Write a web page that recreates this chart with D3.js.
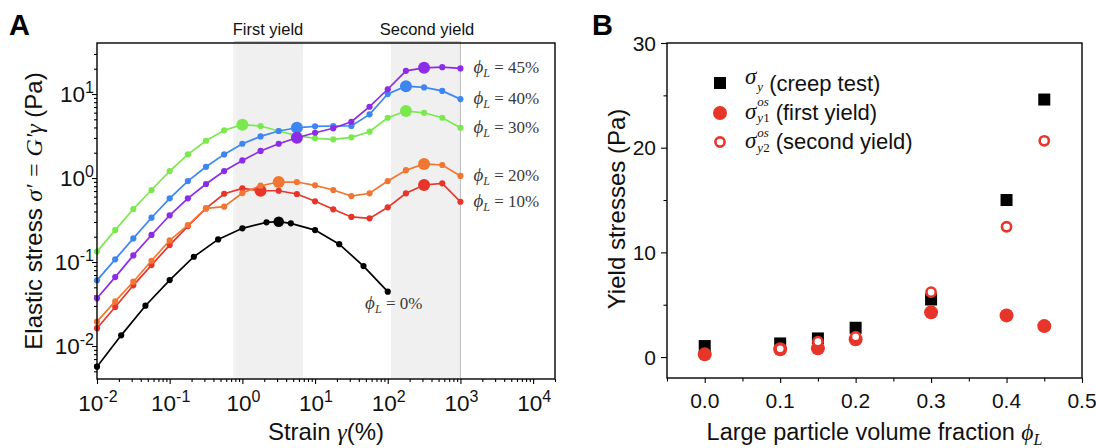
<!DOCTYPE html>
<html>
<head>
<meta charset="utf-8">
<script src="https://cdn.jsdelivr.net/npm/d3@7"></script>
<style>
  body { margin: 0; background: #fff; }
  svg { display: block; }
  .sans { font-family: "Liberation Sans", Arial, Helvetica, sans-serif; }
  .math { font-family: "Liberation Serif", "Times New Roman", "DejaVu Serif", serif; font-style: italic; }
  .rm { font-family: "Liberation Serif", "Times New Roman", "DejaVu Serif", serif; font-style: normal; }
</style>
</head>
<body>
<svg id="fig" width="1096" height="448"></svg>
<script>
// ---------- Panel A: amplitude sweeps, elastic stress vs strain ----------
// strain (%) of the sweeps with large particles, five points per decade
const strainGrid = [0.01, 0.0178, 0.0316, 0.0562, 0.1, 0.178, 0.316, 0.562, 1, 1.78, 3.16,
                    5.62, 10, 17.8, 31.6, 56.2, 100, 178, 316, 562, 1000];
// strain (%) of the pure small-particle gel
const strainPure = [0.01, 0.0215, 0.0464, 0.1, 0.215, 0.464, 1, 2.15, 3.16, 4.64, 10, 21.5, 46.4, 100];

// elastic stress (Pa)
const stress0  = [0.00568, 0.0134, 0.0302, 0.061, 0.1156, 0.186, 0.252, 0.297, 0.302, 0.289, 0.24, 0.163, 0.0895, 0.0444];
const stress10 = [0.0163, 0.0291, 0.0528, 0.092, 0.159, 0.268, 0.435, 0.65, 0.753, 0.706, 0.706,
                  0.645, 0.528, 0.424, 0.344, 0.331, 0.448, 0.658, 0.826, 0.865, 0.522];
const stress20 = [0.0195, 0.034, 0.0583, 0.1035, 0.181, 0.275, 0.435, 0.456, 0.662, 0.81, 0.896,
                  0.896, 0.818, 0.72, 0.61, 0.658, 0.92, 1.24, 1.47, 1.43, 1.06];
const stress30 = [0.133, 0.24, 0.428, 0.72, 1.21, 1.91, 2.78, 3.70, 4.31, 4.16, 3.63,
                  3.2, 2.97, 2.89, 3.05, 3.56, 5.22, 6.28, 5.98, 5.22, 3.97];
const stress40 = [0.0605, 0.1077, 0.191, 0.337, 0.573, 0.92, 1.36, 1.91, 2.56, 3.13, 3.63,
                  3.97, 4.12, 4.16, 4.16, 5.73, 10.0, 12.4, 12.0, 10.9, 8.7];
const stress45 = [0.037, 0.0662, 0.120, 0.21, 0.36, 0.573, 0.849, 1.21, 1.62, 2.10, 2.56,
                  3.02, 3.46, 3.91, 4.68, 7.06, 11.4, 18.9, 20.5, 20.9, 20.2];

const seriesNames  = ["0%", "10%", "20%", "30%", "40%", "45%"];
const seriesColors = ["#000000", "#e8352a", "#f07632", "#7ae94e", "#3d86f2", "#8c2ce6"];
// strain (%) at the first and second yield of each sweep (null: no second yield)
const firstYieldStrain  = [3.16, 1.78, 3.16, 1, 5.62, 5.62];
const secondYieldStrain = [null, 316, 316, 178, 178, 316];

// shaded yielding windows (strain %)
const yieldBands = [[0.8, 6.8], [111, 1000]];
const yieldBandNames = ["First yield", "Second yield"];
const yieldBandLabelX = [268, 427];

const aXTickExp = [-2, -1, 0, 1, 2, 3, 4];
const aYTickExp = [-2, -1, 0, 1];

// ---------- Panel B: yield stresses vs large particle fraction ----------
const phiCreep = [0, 0.1, 0.15, 0.2, 0.3, 0.4, 0.45];
const sigmaCreep = [1.05, 1.3, 1.78, 2.8, 5.5, 15.0, 24.6];
const phiFirst = [0, 0.1, 0.15, 0.2, 0.3, 0.4, 0.45];
const sigmaFirst = [0.26, 0.75, 0.83, 1.69, 4.27, 3.98, 2.96];
const phiSecond = [0.1, 0.15, 0.2, 0.3, 0.4, 0.45];
const sigmaSecond = [0.8, 1.47, 1.94, 6.2, 12.45, 20.66];

const bXTicks = [0, 0.1, 0.2, 0.3, 0.4, 0.5];
const bXTickLabels = ["0.0", "0.1", "0.2", "0.3", "0.4", "0.5"];
const bYTicks = [0, 10, 20, 30];

// ======================================================================
const svg = d3.select("#fig");
const SANS = "sans", MATH = "math", RM = "rm";

const A = { left: 97, top: 43, right: 555, bottom: 379 };
const B = { left: 667, top: 43, right: 1082, bottom: 378 };

const xA = d3.scaleLog().domain([0.01, 2e4]).range([A.left, A.right]);
const yA = d3.scaleLog().domain([0.00405, 40.5]).range([A.bottom, A.top]);
const xB = d3.scaleLinear().domain([-0.05, 0.5]).range([B.left, B.right]);
const yB = d3.scaleLinear().domain([-2, 30]).range([B.bottom, B.top]);

// ---------- Panel A ----------
const gA = svg.append("g");

// yield windows
yieldBands.forEach(([a, b]) => {
  gA.append("rect")
    .attr("x", xA(a)).attr("y", A.top - 1.5)
    .attr("width", xA(b) - xA(a)).attr("height", A.bottom - A.top + 1.5)
    .attr("fill", "#f0f0f0");
});
gA.append("line")
  .attr("x1", xA(0.77)).attr("x2", xA(0.77)).attr("y1", A.top - 1.5).attr("y2", A.bottom)
  .attr("stroke", "#e8e8e8").attr("stroke-width", 1);
gA.append("line")
  .attr("x1", xA(1000)).attr("x2", xA(1000)).attr("y1", A.top - 1.5).attr("y2", A.bottom)
  .attr("stroke", "#bdbdbd").attr("stroke-width", 1);
gA.append("line")
  .attr("x1", xA(0.77)).attr("x2", xA(1000)).attr("y1", A.top - 1.5).attr("y2", A.top - 1.5)
  .attr("stroke", "#c9c9c9").attr("stroke-width", 1);

yieldBandNames.forEach((name, i) => {
  gA.append("text").attr("class", SANS)
    .attr("x", yieldBandLabelX[i]).attr("y", 35).attr("text-anchor", "middle")
    .style("font-size", "16.5px").attr("fill", "#111")
    .text(name);
});

// axes (ticks outward)
const xMajA = aXTickExp.map(e => Math.pow(10, e));
const yMajA = aYTickExp.map(e => Math.pow(10, e));
const isMajor = v => Math.abs(Math.log10(v) - Math.round(Math.log10(v))) < 1e-6;
const xMinA = xA.ticks().filter(v => !isMajor(v));
const yMinA = yA.ticks().filter(v => !isMajor(v) && v < 39);

function styleAxis(g) {
  g.select(".domain").remove();
  g.selectAll(".tick line").attr("stroke", "#000").attr("stroke-width", 1.1);
  g.selectAll(".tick text").remove();
}
gA.append("g").attr("transform", `translate(0,${A.bottom})`)
  .call(d3.axisBottom(xA).tickValues(xMajA).tickSize(5).tickFormat("")).call(styleAxis);
gA.append("g").attr("transform", `translate(0,${A.bottom})`)
  .call(d3.axisBottom(xA).tickValues(xMinA).tickSize(3).tickFormat("")).call(styleAxis);
gA.append("g").attr("transform", `translate(${A.left},0)`)
  .call(d3.axisLeft(yA).tickValues(yMajA).tickSize(5).tickFormat("")).call(styleAxis);
gA.append("g").attr("transform", `translate(${A.left},0)`)
  .call(d3.axisLeft(yA).tickValues(yMinA).tickSize(3).tickFormat("")).call(styleAxis);

// tick labels 10^n
aXTickExp.forEach(e => {
  const t = gA.append("text").attr("class", SANS)
    .attr("x", xA(Math.pow(10, e)) + 1).attr("y", 411)
    .attr("text-anchor", "middle").style("font-size", "22.5px").attr("fill", "#111");
  t.append("tspan").text("10");
  t.append("tspan").attr("dy", -9).style("font-size", "16px").text(String(e));
});
aYTickExp.forEach(e => {
  const t = gA.append("text").attr("class", SANS)
    .attr("x", 94).attr("y", yA(Math.pow(10, e)) + 8)
    .attr("text-anchor", "end").style("font-size", "22.5px").attr("fill", "#111");
  t.append("tspan").text("10");
  t.append("tspan").attr("dy", -9).style("font-size", "16px").text(String(e));
});

// series
const allStress = [stress0, stress10, stress20, stress30, stress40, stress45];
const allStrain = [strainPure, strainGrid, strainGrid, strainGrid, strainGrid, strainGrid];
const line = d3.line().x(d => xA(d[0])).y(d => yA(d[1]));

allStress.forEach((stress, i) => {
  const pts = allStrain[i].map((s, k) => [s, stress[k]]);
  const col = seriesColors[i];
  gA.append("path").datum(pts).attr("d", line)
    .attr("fill", "none").attr("stroke", col).attr("stroke-width", 1.7);
  gA.selectAll(null).data(pts).enter().append("circle")
    .attr("cx", d => xA(d[0])).attr("cy", d => yA(d[1])).attr("r", 3.1).attr("fill", col);
  [firstYieldStrain[i], secondYieldStrain[i]].forEach(ys => {
    if (ys == null) return;
    const p = pts.find(d => Math.abs(d[0] - ys) < 1e-9);
    gA.append("circle").attr("cx", xA(p[0])).attr("cy", yA(p[1]))
      .attr("r", i === 0 ? 5.3 : 6).attr("fill", col);
  });
});

// series labels
function phiLabel(g, x, y, pct, anchor) {
  const t = g.append("text").attr("x", x).attr("y", y).attr("text-anchor", anchor || "start")
    .style("font-size", "17px").attr("fill", "#3a3a3a");
  t.append("tspan").attr("class", MATH).style("font-size", "19px").text("ϕ");
  t.append("tspan").attr("class", MATH).attr("dy", 4).style("font-size", "12px").text("L");
  t.append("tspan").attr("class", RM).attr("dy", -4).text(" = " + pct);
}
[1, 2, 3, 4, 5].forEach(i => {
  const last = allStress[i][allStress[i].length - 1];
  phiLabel(gA, xA(1000) + 13, yA(last) + 5, seriesNames[i]);
});
phiLabel(gA, xA(100) + 6, yA(stress0[stress0.length - 1]) + 17, seriesNames[0], "middle");

// frame
gA.append("rect").attr("x", A.left).attr("y", A.top)
  .attr("width", A.right - A.left).attr("height", A.bottom - A.top)
  .attr("fill", "none").attr("stroke", "#000").attr("stroke-width", 1.4);

// axis titles
{
  const t = gA.append("text").attr("transform", "translate(42,211) rotate(-90)")
    .attr("text-anchor", "middle").style("font-size", "24px").attr("fill", "#111");
  t.append("tspan").attr("class", SANS).text("Elastic stress ");
  t.append("tspan").attr("class", MATH).text("σ′ = G′γ");
  t.append("tspan").attr("class", SANS).text(" (Pa)");
}
{
  const t = gA.append("text").attr("x", (A.left + A.right) / 2).attr("y", 440)
    .attr("text-anchor", "middle").style("font-size", "24px").attr("fill", "#111");
  t.append("tspan").attr("class", SANS).text("Strain ");
  t.append("tspan").attr("class", MATH).text("γ");
  t.append("tspan").attr("class", SANS).text("(%)");
}
svg.append("text").attr("class", SANS).attr("x", 9).attr("y", 35)
  .style("font-size", "29px").style("font-weight", "bold").text("A");

// ---------- Panel B ----------
const gB = svg.append("g");
const bXMinor = d3.range(-0.05, 0.5001, 0.05).filter(v => !bXTicks.some(t => Math.abs(t - v) < 1e-6));
const bYMinor = [5, 15, 25];

gB.append("g").attr("transform", `translate(0,${B.bottom})`)
  .call(d3.axisBottom(xB).tickValues(bXTicks).tickSize(5).tickFormat("")).call(styleAxis);
gB.append("g").attr("transform", `translate(0,${B.bottom})`)
  .call(d3.axisBottom(xB).tickValues(bXMinor).tickSize(3.5).tickFormat("")).call(styleAxis);
gB.append("g").attr("transform", `translate(${B.left},0)`)
  .call(d3.axisLeft(yB).tickValues(bYTicks).tickSize(6).tickFormat("")).call(styleAxis);
gB.append("g").attr("transform", `translate(${B.left},0)`)
  .call(d3.axisLeft(yB).tickValues(bYMinor).tickSize(3.5).tickFormat("")).call(styleAxis);

bXTicks.forEach((v, i) => {
  gB.append("text").attr("class", SANS).attr("x", xB(v)).attr("y", 408)
    .attr("text-anchor", "middle").style("font-size", "21px").attr("fill", "#111")
    .text(bXTickLabels[i]);
});
bYTicks.forEach(v => {
  gB.append("text").attr("class", SANS).attr("x", 656).attr("y", yB(v) + 7.5)
    .attr("text-anchor", "end").style("font-size", "21px").attr("fill", "#111")
    .text(String(v));
});

const RED = "#e8352a";
const sq = 12;
gB.selectAll(null).data(phiCreep.map((p, i) => [p, sigmaCreep[i]])).enter().append("rect")
  .attr("x", d => xB(d[0]) - sq / 2).attr("y", d => yB(d[1]) - sq / 2)
  .attr("width", sq).attr("height", sq).attr("fill", "#000");
gB.selectAll(null).data(phiFirst.map((p, i) => [p, sigmaFirst[i]])).enter().append("circle")
  .attr("cx", d => xB(d[0])).attr("cy", d => yB(d[1])).attr("r", 7).attr("fill", RED);
gB.selectAll(null).data(phiSecond.map((p, i) => [p, sigmaSecond[i]])).enter().append("circle")
  .attr("cx", d => xB(d[0])).attr("cy", d => yB(d[1])).attr("r", 4.6)
  .attr("fill", "#fff").attr("stroke", RED).attr("stroke-width", 2.6);

gB.append("rect").attr("x", B.left).attr("y", B.top)
  .attr("width", B.right - B.left).attr("height", B.bottom - B.top)
  .attr("fill", "none").attr("stroke", "#000").attr("stroke-width", 1.4);

// legend
const legX = 720, legTextX = 745;
gB.append("rect").attr("x", legX - 6).attr("y", 83 - 6).attr("width", 12).attr("height", 12).attr("fill", "#000");
gB.append("circle").attr("cx", legX).attr("cy", 113).attr("r", 7).attr("fill", RED);
gB.append("circle").attr("cx", legX).attr("cy", 142).attr("r", 4.6)
  .attr("fill", "#fff").attr("stroke", RED).attr("stroke-width", 2.6);

function sigmaEntry(baseY, sigY, sup, sub, supY, subY, label) {
  const s = gB.append("text").attr("class", MATH).attr("x", legTextX).attr("y", sigY)
    .style("font-size", "23px").attr("fill", "#111").text("σ");
  const w = s.node().getComputedTextLength();
  let end = legTextX + w;
  [[sup, supY], [sub, subY]].forEach(([str, yy]) => {
    if (!str) return;
    const t = gB.append("text").attr("x", legTextX + w + 1).attr("y", yy)
      .style("font-size", "13px").attr("fill", "#111");
    // digits upright, letters italic
    str.split("").forEach(ch => {
      t.append("tspan").attr("class", /[0-9]/.test(ch) ? RM : MATH).text(ch);
    });
    end = Math.max(end, legTextX + w + 1 + t.node().getComputedTextLength());
  });
  gB.append("text").attr("class", SANS).attr("x", end + 6).attr("y", baseY)
    .style("font-size", "22px").attr("fill", "#111").text(label);
}
sigmaEntry(91, 84, null, "y", 0, 91, "(creep test)");
sigmaEntry(120, 119, "os", "y1", 106, 121.5, "(first yield)");
sigmaEntry(149, 148, "os", "y2", 137, 152, "(second yield)");

// axis titles
gB.append("text").attr("class", SANS).attr("transform", "translate(625,209) rotate(-90)")
  .attr("text-anchor", "middle").style("font-size", "24px").attr("fill", "#111")
  .text("Yield stresses (Pa)");
{
  const t = gB.append("text").attr("x", (B.left + B.right) / 2).attr("y", 440)
    .attr("text-anchor", "middle").style("font-size", "23.5px").attr("fill", "#111");
  t.append("tspan").attr("class", SANS).text("Large particle volume fraction  ");
  t.append("tspan").attr("class", MATH).text("ϕ");
  t.append("tspan").attr("class", MATH).attr("dy", 5).style("font-size", "16px").text("L");
}
svg.append("text").attr("class", SANS).attr("x", 592).attr("y", 35)
  .style("font-size", "29px").style("font-weight", "bold").text("B");
</script>
</body>
</html>
